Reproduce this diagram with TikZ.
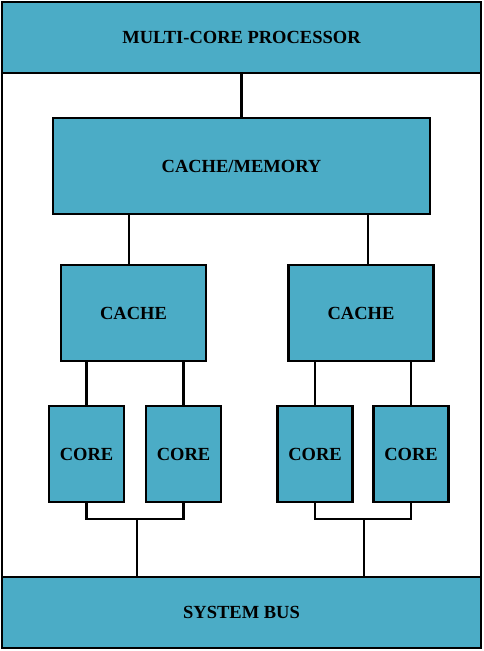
\documentclass[tikz,border=0pt]{standalone}
\usepackage{fontspec}
\setmainfont{Liberation Serif}
\usetikzlibrary{positioning}
\definecolor{blockblue}{RGB}{75,172,198}

\begin{document}
\begin{tikzpicture}[
    x=1pt, y=-1pt,
    line width=2.4pt,
    block/.style={rectangle,draw,fill=blockblue,inner sep=0pt,
                  font=\bfseries\fontsize{18.5}{20}\selectfont},
    cache/.style={block,minimum width=145pt,minimum height=96pt},
    core/.style={block,minimum width=75pt,minimum height=96pt}
    ]
    \useasboundingbox (0,0) rectangle (483,651);

    % outer frame
    \draw (2,2) rectangle (481,648);

    \node[block,minimum width=479pt,minimum height=71pt] (proc) at (241.5,37.5) {MULTI-CORE PROCESSOR};
    \node[block,minimum width=479pt,minimum height=71pt] (bus) at (241.5,612.5) {SYSTEM BUS};

    \node[block,minimum width=377pt,minimum height=96pt] (mem) at (241.5,166) {CACHE/MEMORY};

    \node[cache] (cacheL) at (133.5,313) {CACHE};
    \node[cache] (cacheR) at (361,313) {CACHE};

    \node[core] (coreA) at (86.5,454) {CORE};
    \node[core] (coreB) at (183.5,454) {CORE};
    \node[core] (coreC) at (315,454) {CORE};
    \node[core] (coreD) at (411,454) {CORE};

    \coordinate (joinL) at (137,519);
    \coordinate (joinR) at (364,519);

    \draw (proc) -- (mem);
    \draw ([xshift=-4.5pt]cacheL.north) -- ([xshift=-4.5pt]cacheL.north |- mem.south);
    \draw ([xshift=7pt]cacheR.north) -- ([xshift=7pt]cacheR.north |- mem.south);

    \draw (coreA) -- (coreA |- cacheL.south);
    \draw (coreB) -- (coreB |- cacheL.south);
    \draw (coreC) -- (coreC |- cacheR.south);
    \draw (coreD) -- (coreD |- cacheR.south);

    \draw (coreA.south) |- (joinL) -| (coreB.south);
    \draw (joinL) -- (joinL |- bus.north);
    \draw (coreC.south) |- (joinR) -| (coreD.south);
    \draw (joinR) -- (joinR |- bus.north);

  \end{tikzpicture}
\end{document}
